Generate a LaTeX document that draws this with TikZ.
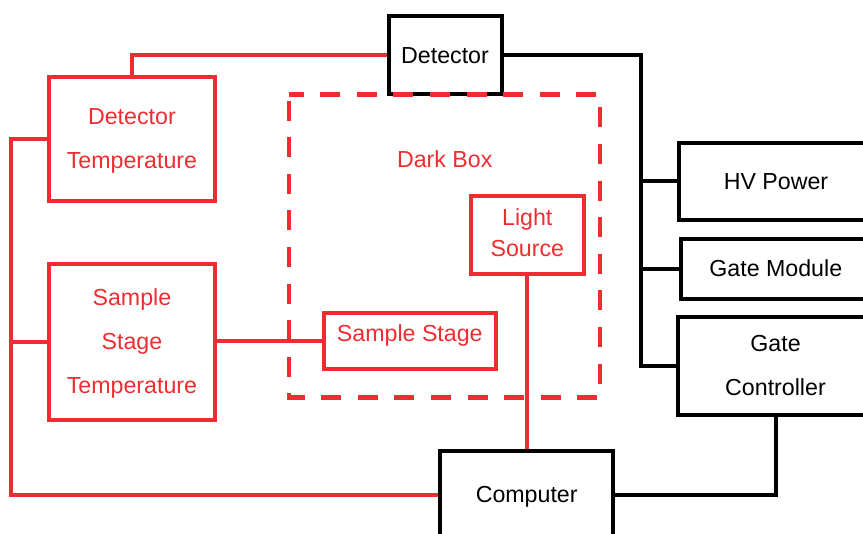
\documentclass[tikz,border=0pt]{standalone}
\usepackage{fontspec}
\setmainfont{Liberation Sans}
\definecolor{cred}{RGB}{238,45,48}
\begin{document}
\begin{tikzpicture}[x=1pt,y=-1pt,
  box/.style={draw, line width=4pt, inner sep=0pt, align=center, font=\fontsize{23.2}{44}\selectfont},
  bbox/.style={box, draw=black, text=black},
  rbox/.style={box, draw=cred, text=cred},
  rwire/.style={draw=cred, line width=4pt},
  bwire/.style={draw=black, line width=4pt},
  oneline/.style={text height=16pt, text depth=0pt},
  twoline/.style={text height=59pt, text depth=0pt},
  threeline/.style={text height=103pt, text depth=0pt},
  ]
\clip (0,0) rectangle (863,534);
% boxes
\node[bbox, oneline, minimum width=113pt, minimum height=78.8pt] (det) at (445,55.1) {Detector};
\node[rbox, twoline, minimum width=166.3pt, minimum height=124pt] (dt) at (131.9,139) {Detector\\Temperature};
\node[rbox, threeline, minimum width=166.3pt, minimum height=156pt] (sst) at (131.9,342) {Sample\\Stage\\Temperature};
\node[rbox, text height=16pt, text depth=14.4pt, minimum width=171.7pt, minimum height=56.3pt] (ss) at (409.8,341.2) {Sample Stage};
\node[rbox, font=\fontsize{23.2}{31}\selectfont, text height=42.4pt, text depth=0pt, minimum width=112.7pt, minimum height=77.7pt] (ls) at (527.3,235.2) {Light\\Source};
\node[bbox, oneline, minimum width=194.6pt, minimum height=77.3pt] (hv) at (776,181.4) {HV Power};
\node[bbox, oneline, minimum width=190.3pt, minimum height=59.4pt] (gm) at (775.8,269) {Gate Module};
\node[bbox, twoline, minimum width=195pt, minimum height=98pt] (gc) at (775.5,365.7) {Gate\\Controller};
\node[bbox, oneline, minimum width=172.7pt, minimum height=87.4pt] (comp) at (526.7,495) {Computer};
\node[text=cred, font=\fontsize{23.2}{44}\selectfont, oneline, inner sep=0pt] (dbl) at (444.7,159.7) {Dark Box};
% helper coordinates
\coordinate (lbx) at (11.2,0);
\coordinate (bbx) at (641,0);
\coordinate (dbtl) at (288.8,94.5);
\coordinate (dbbr) at (600,397.7);
% red wires
\draw[rwire] (dt.north) |- (det.west);
\draw[rwire] (dt.west) -- (dt.west -| lbx) -- (lbx |- comp.west) -- (comp.west);
\draw[rwire] (sst.west) -- (sst.west -| lbx);
\draw[rwire] (ss.west -| sst.east) -- (ss.west);
\draw[rwire] (ls.south) -- (ls.south |- comp.north);
% black wires
\draw[bwire] (det.east) -- (det.east -| bbx) -- (bbx |- gc.west) -- (gc.west);
\draw[bwire] (hv.west -| bbx) -- (hv.west);
\draw[bwire] (gm.west -| bbx) -- (gm.west);
\draw[bwire] (comp.east) -| (gc.south);
% dark box
\draw[cred, line width=4.5pt, dash pattern=on 20pt off 16.6pt, dash phase=5.2pt]
  (dbtl) -- (dbtl -| dbbr) -- (dbbr) -- (dbbr -| dbtl) -- cycle;
\end{tikzpicture}
\end{document}
